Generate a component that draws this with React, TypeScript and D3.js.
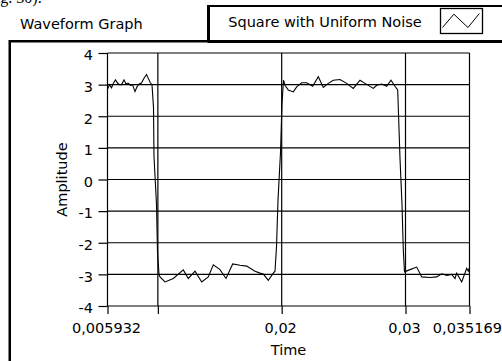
import React, { useRef, useEffect } from "react";
import * as d3 from "d3";

// waveform samples (time in s, amplitude)
const times = [
    0.005932, 0.006094, 0.006255, 0.006417, 0.006578, 0.00674, 0.006901, 0.007063,
    0.007265, 0.007426, 0.007588, 0.00779, 0.007951, 0.008153, 0.008315, 0.008476,
    0.008678, 0.00888, 0.009082, 0.009284, 0.009405, 0.009526,
    0.009647, 0.009688, 0.00989, 0.00997, 0.010092,
    0.010172, 0.010576, 0.011247, 0.012054, 0.012458, 0.013, 0.01354, 0.014073,
    0.014477, 0.015018, 0.015503, 0.016044, 0.016634, 0.017175, 0.017845, 0.018249,
    0.018515, 0.018919, 0.019323, 0.01946,
    0.019581, 0.019702, 0.019904, 0.020025, 0.020147,
    0.020268, 0.020534, 0.020938, 0.021213, 0.021616, 0.02202, 0.022505, 0.022957,
    0.023361, 0.023765, 0.024169, 0.02471, 0.025251, 0.025784, 0.026325, 0.026729,
    0.027399, 0.027674, 0.028078, 0.028481, 0.028829, 0.029152, 0.02937,
    0.029435, 0.029556, 0.029718, 0.029823, 0.029919,
    0.030364, 0.030905, 0.031309, 0.031979, 0.03252, 0.032924, 0.033328, 0.033732,
    0.033998, 0.034135, 0.034539, 0.034943, 0.035072, 0.035169,
];
const amps = [
    2.85, 3.0, 2.9, 3.05, 3.15, 3.05, 3.0, 3.0,
    3.15, 3.02, 3.05, 2.98, 3.0, 2.78, 2.93, 3.02,
    3.05, 3.2, 3.32, 3.15, 3.05, 3.0,
    2.28, 0.72, -0.8, -2.3, -3.0,
    -3.08, -3.24, -3.13, -2.86, -3.13, -2.9, -3.24, -3.08,
    -2.7, -2.85, -3.13, -2.67, -2.71, -2.74, -2.9, -2.96,
    -2.99, -3.19, -2.96, -2.9,
    -2.13, -0.66, 0.85, 2.4, 3.14,
    2.98, 2.83, 2.77, 2.93, 3.06, 3.06, 2.95, 3.25,
    2.91, 3.04, 3.14, 3.16, 3.04, 2.88, 3.14, 3.04,
    2.88, 2.98, 3.02, 2.95, 3.14, 2.95, 2.83,
    2.09, 0.66, -0.8, -2.24, -2.92,
    -2.85, -2.77, -3.08, -3.1, -3.08, -2.98, -3.03, -3.0,
    -3.13, -2.96, -3.24, -2.81, -2.9, -2.78,
];

const yTicks = [4, 3, 2, 1, 0, -1, -2, -3, -4];
const xTicks = [0.005932, 0.01, 0.02, 0.03, 0.035169];
const xTickLabels = ["0,005932", "", "0,02", "0,03", "0,035169"];
const xGrid = [0.01, 0.02, 0.03];

const title = "Waveform Graph";
const legendLabel = "Square with Uniform Noise";
const xLabel = "Time";
const yLabel = "Amplitude";

const WaveformGraph = () => {

    const svgRef = useRef(null);

    const width = 502;
    const height = 361;
    const plot = { left: 107.5, right: 469.5, top: 53, bottom: 306 };

    useEffect(() => {

        const svg = d3.select(svgRef.current);
        svg.selectAll("*").remove();

        const font = "DejaVu Sans, sans-serif";
        const fontSize = 14.5;

        const xScale = d3.scaleLinear()
            .domain([xTicks[0], xTicks[xTicks.length - 1]])
            .range([plot.left, plot.right]);

        const yScale = d3.scaleLinear()
            .domain([-4, 4])
            .range([plot.bottom, plot.top]);

        svg.append("rect")
            .attr("width", width)
            .attr("height", height)
            .attr("fill", "#fff");

        // leftover caption from the page the screenshot came from (cut off in the original too)
        svg.append("text")
            .attr("x", -13)
            .attr("y", 2.5)
            .attr("font-family", "Liberation Serif, serif")
            .attr("font-size", 16)
            .text("Fig. 30).");

        svg.append("text")
            .attr("x", 20)
            .attr("y", 29)
            .attr("font-family", font)
            .attr("font-size", fontSize)
            .text(title);

        // legend box
        svg.append("rect")
            .attr("x", 208.5)
            .attr("y", 6)
            .attr("width", 320)
            .attr("height", 36)
            .attr("fill", "#fff")
            .attr("stroke", "#000")
            .attr("stroke-width", 2);
        svg.append("line")
            .attr("x1", 208.5).attr("x2", 208.5)
            .attr("y1", 5).attr("y2", 42)
            .attr("stroke", "#000")
            .attr("stroke-width", 3);
        svg.append("text")
            .attr("x", 325)
            .attr("y", 26.5)
            .attr("text-anchor", "middle")
            .attr("font-family", font)
            .attr("font-size", fontSize)
            .text(legendLabel);

        // legend plot icon
        const icon = { x: 440.5, y: 8.5, w: 42, h: 25 };
        svg.append("rect")
            .attr("x", icon.x)
            .attr("y", icon.y)
            .attr("width", icon.w)
            .attr("height", icon.h)
            .attr("fill", "#fff")
            .attr("stroke", "#000")
            .attr("stroke-width", 1.3);
        const ix = d3.scaleLinear().domain([0, 1]).range([icon.x + 2, icon.x + icon.w - 2]);
        const iy = d3.scaleLinear().domain([0, 1]).range([icon.y + icon.h - 6, icon.y + 5]);
        svg.append("path")
            .datum([[0, 0], [0.3, 0.95], [0.67, 0], [0.97, 1]])
            .attr("fill", "none")
            .attr("stroke", "#000")
            .attr("stroke-width", 1)
            .attr("d", d3.line().x((d) => ix(d[0])).y((d) => iy(d[1])));

        // outer frame
        svg.append("rect")
            .attr("x", 9.75)
            .attr("y", 41.25)
            .attr("width", 540)
            .attr("height", 360)
            .attr("fill", "none")
            .attr("stroke", "#000")
            .attr("stroke-width", 2.5);

        // grid
        const grid = svg.append("g")
            .attr("stroke", "#000")
            .attr("stroke-width", 1.2);
        grid.selectAll(".h")
            .data(yTicks)
            .enter()
            .append("line")
            .attr("x1", plot.left)
            .attr("x2", plot.right)
            .attr("y1", (d) => yScale(d))
            .attr("y2", (d) => yScale(d));
        grid.selectAll(".v")
            .data([xTicks[0], ...xGrid, xTicks[xTicks.length - 1]])
            .enter()
            .append("line")
            .attr("x1", (d) => xScale(d))
            .attr("x2", (d) => xScale(d))
            .attr("y1", plot.top)
            .attr("y2", plot.bottom);

        const yAxis = d3.axisLeft(yScale)
            .tickValues(yTicks)
            .tickFormat((d) => String(d))
            .tickSize(9)
            .tickSizeOuter(0)
            .tickPadding(5.5);

        const xAxis = d3.axisBottom(xScale)
            .tickValues(xTicks)
            .tickFormat((d, i) => xTickLabels[i])
            .tickSize(8)
            .tickSizeOuter(0);

        const gy = svg.append("g")
            .attr("transform", `translate(${plot.left}, 0)`)
            .call(yAxis);
        const gx = svg.append("g")
            .attr("transform", `translate(0, ${plot.bottom})`)
            .call(xAxis);

        [gx, gy].forEach((g) => {
            g.select(".domain").remove();
            g.attr("font-family", font).attr("font-size", fontSize);
            g.selectAll("line").attr("stroke", "#000").attr("stroke-width", 1.2);
            g.selectAll("text").attr("fill", "#000");
        });
        gy.selectAll("text").attr("dy", "0.47em");
        gx.selectAll("text").attr("y", 27).attr("dy", 0).attr("dx", -1.5);
        // last label is pulled in so it ends at the window edge, as in the original
        gx.selectAll("text")
            .filter((d, i) => i === xTicks.length - 1)
            .attr("text-anchor", "end")
            .attr("dx", 0)
            .attr("x", width - 0.5 - xScale(xTicks[xTicks.length - 1]));

        svg.append("text")
            .attr("x", (plot.left + plot.right) / 2)
            .attr("y", 355)
            .attr("text-anchor", "middle")
            .attr("font-family", font)
            .attr("font-size", fontSize)
            .text(xLabel);

        svg.append("text")
            .attr("transform", `translate(66.5, ${(plot.top + plot.bottom) / 2}) rotate(-90)`)
            .attr("text-anchor", "middle")
            .attr("font-family", font)
            .attr("font-size", fontSize)
            .text(yLabel);

        const line = d3.line()
            .x((d, i) => xScale(times[i]))
            .y((d, i) => yScale(amps[i]));

        svg.append("path")
            .datum(amps)
            .attr("fill", "none")
            .attr("stroke", "#000")
            .attr("stroke-width", 1.1)
            .attr("d", line);

    }, []);

    return (
        <svg ref={svgRef} width={width} height={height}
            style={{ position: "absolute", left: 0, top: 0 }}>
        </svg>
    )
};

export default function App() {
    return <WaveformGraph />;
}
